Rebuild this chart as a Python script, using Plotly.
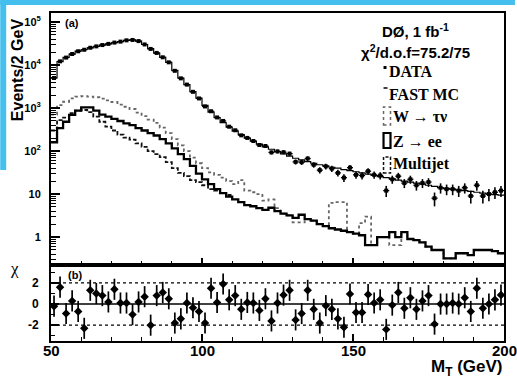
import plotly.graph_objects as go
import numpy as np

# ---------------- data ----------------
bin_centers = list(range(51, 200, 2))   # 2 GeV bins, 50..200 GeV

fast_mc = [5000, 12000, 15000, 18000, 21000, 23000, 25000, 27000, 29000, 31000,
           33000, 35000, 37500, 38500, 36000, 30000, 24000, 19000, 15000, 11500,
           7500, 5000, 3500, 2400, 1700, 1150, 800, 600, 460, 360,
           290, 240, 200, 170, 145, 125, 110, 97, 86, 76,
           68, 62, 57, 52, 48, 45, 42, 40, 37, 35,
           33, 31, 29, 27, 25.5, 24, 22.5, 21, 20, 19,
           18, 17, 16, 15, 14, 13.5, 13, 12.5, 12, 11.5,
           11, 10.5, 10, 9.7, 9.4]

data_counts = [4986, 12175, 14890, 18040, 20900, 22650, 25205, 27165, 29135, 31035,
               33255, 35020, 37520, 38305, 36040, 30120, 23690, 19110, 15135, 11555,
               7345, 4900, 3506, 2383, 1671, 1089, 842, 604, 501, 368,
               304, 232, 202, 171, 138, 131, 93, 98, 94, 87,
               56, 55, 67, 48, 36, 44, 39, 31, 24, 41,
               28, 27, 34, 28, 27, 12, 22, 26, 18, 22,
               16, 18, 19, 8, 14, 13, 13, 12, 14, 9,
               16, 9, 10, 11, 12]

z_ee = [160, 340, 480, 690, 870, 1040, 1040, 870, 700, 630,
        560, 500, 440, 400, 340, 300, 260, 230, 190, 150,
        115, 85, 65, 45, 30, 22, 17, 13, 10.5, 8.7,
        7.5, 6.5, 5.5, 5.2, 4.7, 4.3, 4.8, 4.0, 3.5, 3.2,
        2.8, 3.3, 2.6, 2.4, 2.0, 1.8, 1.6, 1.5, 1.4, 1.3,
        1.2, 1.1, 0.65, 0.65, 1.0, 1.0, 1.3, 1.0, 1.3, 0.9,
        0.85, 0.75, 0.6, 0.5, 0.5, 0.32, 0.32, 0.42, 0.42, 0.38,
        0.5, 0.5, 0.5, 0.47, 0.42]

w_taunu = [700, 1170, 1400, 1670, 1850, 1900, 1850, 1780, 1650, 1500,
           1380, 1200, 1070, 950, 780, 650, 540, 450, 350, 260,
           190, 135, 100, 70, 52, 40, 32, 28, 24, 20,
           17, 21, 12, 11, 10, 7, 7.5, 4.7, 3.5, 3.2,
           2.2, 2.2, 2.6, 2.4, 2.0, 1.8, 6.2, 6.5, 6.5, 1.3,
           1.2, 2.1, 3.0, 0.65, 1.0, 1.0, 0.65, 0.65, 1.3, 0.9,
           0.85, 0.75, 0.6, 0.5, 0.5, 0.32, 0.32, 0.42, 0.42, 0.38,
           0.5, 0.5, 0.5, 0.47, 0.42]

multijet = [300, 525, 600, 760, 870, 900, 800, 630, 480, 370,
            300, 240, 205, 185, 150, 125, 100, 85, 72, 55,
            40, 31, 26, 21, 19, 16, 13, 12, 10.5, 9.5]

chi = [-0.2, 1.6, -0.9, 0.3, -0.7, -2.3, 1.3, 1.0, 0.8, 0.2,
       1.4, 0.1, 0.1, -1.0, 0.2, 0.7, -2.0, 0.8, 1.1, 0.5,
       -1.8, -1.4, 0.1, -0.35, -0.7, -1.8, 1.5, 0.15, 1.9, 0.4,
       0.8, -0.5, 0.15, 0.1, -0.6, 0.5, -1.6, 0.1, 0.85, 1.3,
       -1.5, -0.9, 1.3, -0.5, -1.8, -0.15, -0.5, -1.4, -2.2, 0.95,
       -0.8, -0.8, 0.9, 0.1, 0.4, -2.4, -0.1, 1.1, -0.4, 0.6,
       -0.5, 0.3, 0.8, -1.9, 0.0, 0.0, 0.1, 0.0, 0.6, -0.7,
       1.5, -0.4, 0.0, 0.4, 0.85]

y_tickvals = [1, 10, 100, 1000, 10000, 100000]
y_ticktext = ["1", "10", "10<sup>2</sup>", "10<sup>3</sup>", "10<sup>4</sup>", "10<sup>5</sup>"]
x_tickvals = [50, 100, 150, 200]
x_ticktext = ["50", "100", "150", "200"]
chi_tickvals = [-2, 0, 2]
chi_ticktext = ["-2", "0", "2"]

# ---------------- helpers ----------------
BIN_HALF = 1.0


def step(vals):
    n = len(vals)
    xs = [c - BIN_HALF for c in bin_centers[:n]] + [bin_centers[n - 1] + BIN_HALF]
    ys = list(vals) + [vals[-1]]
    return xs, ys


L, T, W, H = 51, 13, 455, 328
FIG_W, FIG_H = 517, 380


def fx(px):
    return (px - L) / W


def fy(py):
    return (T + H - py) / H


SANS = "Liberation Sans"
SERIF = "Liberation Serif"

fig = go.Figure()

# backgrounds
x, y = step(w_taunu)
fig.add_trace(go.Scatter(x=x, y=y, mode="lines", line=dict(shape="hv", color="#666666", width=1.8, dash="dot"),
                         xaxis="x", yaxis="y", showlegend=False))
x, y = step(multijet)
fig.add_trace(go.Scatter(x=x, y=y, mode="lines", line=dict(shape="hv", color="#111", width=1.8, dash="4px,2px"),
                         xaxis="x", yaxis="y", showlegend=False))
x, y = step(z_ee)
fig.add_trace(go.Scatter(x=x, y=y, mode="lines", line=dict(shape="hv", color="black", width=2.3),
                         xaxis="x", yaxis="y", showlegend=False))
x, y = step(fast_mc)
fig.add_trace(go.Scatter(x=x, y=y, mode="lines", line=dict(shape="hv", color="black", width=1.2),
                         xaxis="x", yaxis="y", showlegend=False))
# data
fig.add_trace(go.Scatter(x=bin_centers, y=data_counts, mode="markers",
                         marker=dict(symbol="square", size=4, color="black"),
                         error_y=dict(type="data", array=list(np.sqrt(data_counts)), color="black", thickness=1.6, width=0),
                         error_x=dict(type="constant", value=BIN_HALF, color="black", thickness=1.3, width=0),
                         xaxis="x", yaxis="y", showlegend=False))
# chi panel
fig.add_trace(go.Scatter(x=bin_centers, y=chi, mode="markers",
                         marker=dict(symbol="diamond", size=6.5, color="black"),
                         error_y=dict(type="constant", value=1, color="black", thickness=1.7, width=0),
                         xaxis="x2", yaxis="y2", showlegend=False))

split = fy(265)

axis_common = dict(showline=True, linecolor="black", linewidth=2, mirror=True,
                   showgrid=False, zeroline=False, ticks="inside", tickcolor="black")

minor_log = []
for e in range(0, 5):
    for k in range(2, 10):
        minor_log.append(k * 10 ** e)
minor_log += [0.3, 0.4, 0.5, 0.6, 0.7, 0.8, 0.9, 2e5]

fig.update_layout(
    width=FIG_W, height=FIG_H,
    margin=dict(l=L, r=FIG_W - L - W, t=T, b=FIG_H - T - H),
    paper_bgcolor="white", plot_bgcolor="white",
    xaxis=dict(domain=[0, 1], anchor="y", range=[50, 200], showticklabels=False,
               tickvals=x_tickvals, ticklen=7, tickwidth=1.5,
               minor=dict(ticks="inside", dtick=10, tick0=50, ticklen=4, tickcolor="black", tickwidth=1.2),
               **axis_common),
    yaxis=dict(domain=[split, 1], anchor="x", type="log", range=[-0.65, 5.21],
               tickvals=y_tickvals, ticktext=y_ticktext, ticklen=9, tickwidth=1.5,
               tickfont=dict(family=SANS, size=11, color="black", weight="bold"),
               ticklabelstandoff=6,
               minor=dict(ticks="inside", tickvals=minor_log, ticklen=5, tickcolor="black", tickwidth=1.2),
               **axis_common),
    xaxis2=dict(domain=[0, 1], anchor="y2", matches="x", range=[50, 200],
                tickvals=x_tickvals, showticklabels=False, ticklen=7, tickwidth=1.5,
                minor=dict(ticks="inside", dtick=10, tick0=50, ticklen=4, tickcolor="black", tickwidth=1.2),
                **axis_common),
    yaxis2=dict(domain=[0, split], anchor="x2", range=[-3.5, 3.7],
                tickvals=chi_tickvals, ticktext=chi_ticktext, ticklen=8, tickwidth=1.5,
                tickfont=dict(family=SANS, size=12, color="black", weight="bold"),
                ticklabelstandoff=8,
                minor=dict(ticks="inside", dtick=1, tick0=0, ticklen=4, tickcolor="black", tickwidth=1.2),
                **axis_common),
)

shapes = []
# blue screenshot border
shapes.append(dict(type="rect", xref="paper", yref="paper", x0=fx(0), x1=fx(FIG_W), y0=fy(5), y1=fy(0),
                   fillcolor="#45c0ee", line=dict(width=0), layer="above"))
shapes.append(dict(type="rect", xref="paper", yref="paper", x0=fx(0), x1=fx(6), y0=fy(170), y1=fy(0),
                   fillcolor="#45c0ee", line=dict(width=0), layer="above"))
# chi reference lines
for yv, d in [(2, "3px,3px"), (-2, "3px,3px"), (0, "solid")]:
    shapes.append(dict(type="line", xref="x2", yref="y2", x0=50, x1=200, y0=yv, y1=yv,
                       line=dict(color="black", width=1.3 if d != "solid" else 1.6, dash=d)))
# legend markers
shapes.append(dict(type="rect", xref="paper", yref="paper", x0=fx(385), x1=fx(388), y0=fy(69), y1=fy(66),
                   fillcolor="black", line=dict(width=0)))
shapes.append(dict(type="line", xref="paper", yref="paper", x0=fx(385), x1=fx(389), y0=fy(88), y1=fy(88),
                   line=dict(color="black", width=1.5)))
shapes.append(dict(type="rect", xref="paper", yref="paper", x0=fx(385), x1=fx(392), y0=fy(125), y1=fy(107),
                   line=dict(color="#666666", width=1.5, dash="dot")))
shapes.append(dict(type="rect", xref="paper", yref="paper", x0=fx(385), x1=fx(392), y0=fy(148), y1=fy(133),
                   line=dict(color="black", width=2.2)))
shapes.append(dict(type="rect", xref="paper", yref="paper", x0=fx(385), x1=fx(392), y0=fy(173), y1=fy(157),
                   line=dict(color="#111", width=1.5, dash="3px,2px")))
fig.update_layout(shapes=shapes)


def ann(text, px, py, size, family=SANS, xanchor="center", angle=0, bold=True):
    return dict(text=(f"<b>{text}</b>" if bold else text), x=fx(px), y=fy(py), xref="paper", yref="paper",
                showarrow=False, xanchor=xanchor, yanchor="middle", textangle=angle,
                font=dict(family=family, size=size, color="black"))


annotations = [
    ann("(a)", 63, 23, 11, xanchor="left"),
    ann("(b)", 66, 275, 11, xanchor="left"),
    ann("DØ, 1 fb<sup>-1</sup>", 417, 30, 15),
    ann("χ<sup>2</sup>/d.o.f=75.2/75", 417, 51, 15),
    ann("DATA", 388, 71, 16, family=SERIF, xanchor="left"),
    ann("FAST MC", 388, 94, 16, family=SERIF, xanchor="left"),
    ann("W → τν", 392, 117, 16, family=SERIF, xanchor="left"),
    ann("Z → ee", 392, 141, 16, family=SERIF, xanchor="left"),
    ann("Multijet", 392, 164, 16, family=SERIF, xanchor="left"),
    ann("M<sub>T</sub> (GeV)", 507, 368, 17, xanchor="right"),
    ann("Events/2 GeV", 17, 70, 16, angle=-90),
    ann("χ", 14, 268, 17, family=SERIF, bold=False),
]
# x tick labels of the lower panel, placed at their axis values
for v, t in zip(x_tickvals, x_ticktext):
    annotations.append(dict(text=f"<b>{t}</b>", x=v, xref="x2", y=fy(350), yref="paper",
                            showarrow=False, xanchor="center", yanchor="middle",
                            font=dict(family=SANS, size=15, color="black")))
fig.update_layout(annotations=annotations)

fig.write_html("out.html")
